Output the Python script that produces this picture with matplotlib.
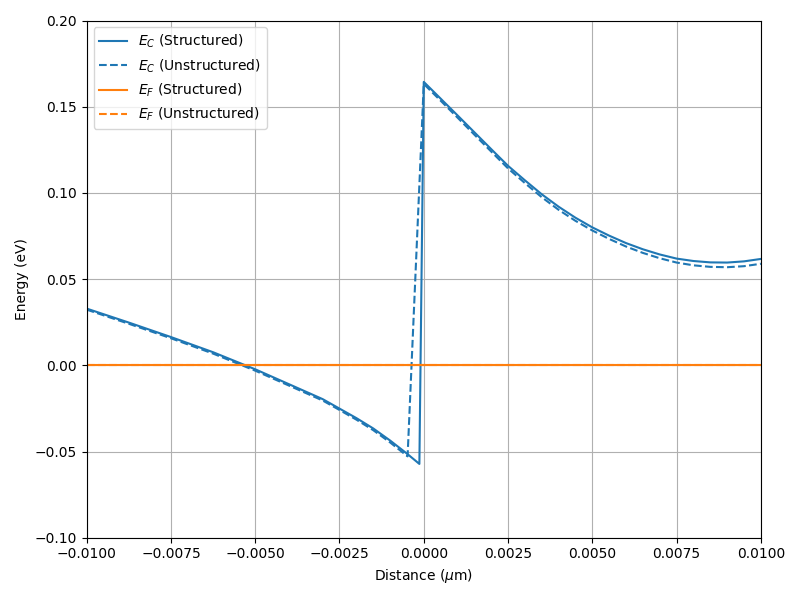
import matplotlib
matplotlib.use("Agg")
import matplotlib.pyplot as plt

# Conduction band, structured mesh
x_s = [-0.01, -0.00875, -0.0075, -0.00625, -0.005, -0.00375, -0.003, -0.0025,
       -0.002, -0.0015, -0.001, -0.0005, -0.00013,
       0.0, 0.0005, 0.001, 0.0015, 0.002, 0.0025, 0.003, 0.0035, 0.004,
       0.0045, 0.005, 0.0055, 0.006, 0.0065, 0.007, 0.0075, 0.008, 0.0085,
       0.009, 0.0095, 0.01]
ec_s = [0.0329, 0.0248, 0.0164, 0.0076, -0.0023, -0.0131, -0.0196, -0.0251,
        -0.0306, -0.0366, -0.0436, -0.0512, -0.0572,
        0.1644, 0.1547, 0.1450, 0.1352, 0.1254, 0.1157, 0.1073, 0.0992, 0.0920,
        0.0856, 0.0800, 0.0752, 0.0709, 0.0673, 0.0643, 0.0619, 0.0605, 0.0597,
        0.0596, 0.0603, 0.0617]

# Conduction band, unstructured mesh
x_u = [-0.01, -0.00875, -0.0075, -0.00625, -0.005, -0.00375, -0.003, -0.0025,
       -0.002, -0.0015, -0.001, -0.00048,
       0.0, 0.0005, 0.001, 0.0015, 0.002, 0.0025, 0.003, 0.0035, 0.004,
       0.0045, 0.005, 0.0055, 0.006, 0.0065, 0.007, 0.0075, 0.008, 0.0085,
       0.009, 0.0095, 0.01]
ec_u = [0.0323, 0.0241, 0.0157, 0.0068, -0.0031, -0.0139, -0.0204, -0.0259,
        -0.0315, -0.0376, -0.0447, -0.0528,
        0.1632, 0.1535, 0.1437, 0.1338, 0.1240, 0.1142, 0.1057, 0.0975, 0.0902,
        0.0838, 0.0782, 0.0733, 0.0689, 0.0652, 0.0621, 0.0596, 0.0580, 0.0571,
        0.0569, 0.0575, 0.0589]

# Fermi level
x_f = [-0.01, 0.01]
ef_s = [0.0, 0.0]
ef_u = [0.0, 0.0]

fig, ax = plt.subplots(figsize=(8, 6), dpi=100)
ax.plot(x_s, ec_s, color="C0", linestyle="-", label=r"$E_C$ (Structured)")
ax.plot(x_u, ec_u, color="C0", linestyle="--", label=r"$E_C$ (Unstructured)")
ax.plot(x_f, ef_s, color="C1", linestyle="-", label=r"$E_F$ (Structured)")
ax.plot(x_f, ef_u, color="C1", linestyle="--", label=r"$E_F$ (Unstructured)")

ax.set_xlim(-0.01, 0.01)
ax.set_ylim(-0.1, 0.2)
ax.set_xlabel(r"Distance ($\mu$m)")
ax.set_ylabel("Energy (eV)")
ax.grid(True)
ax.legend(loc="upper left")
fig.tight_layout()
fig.savefig("out.png")
